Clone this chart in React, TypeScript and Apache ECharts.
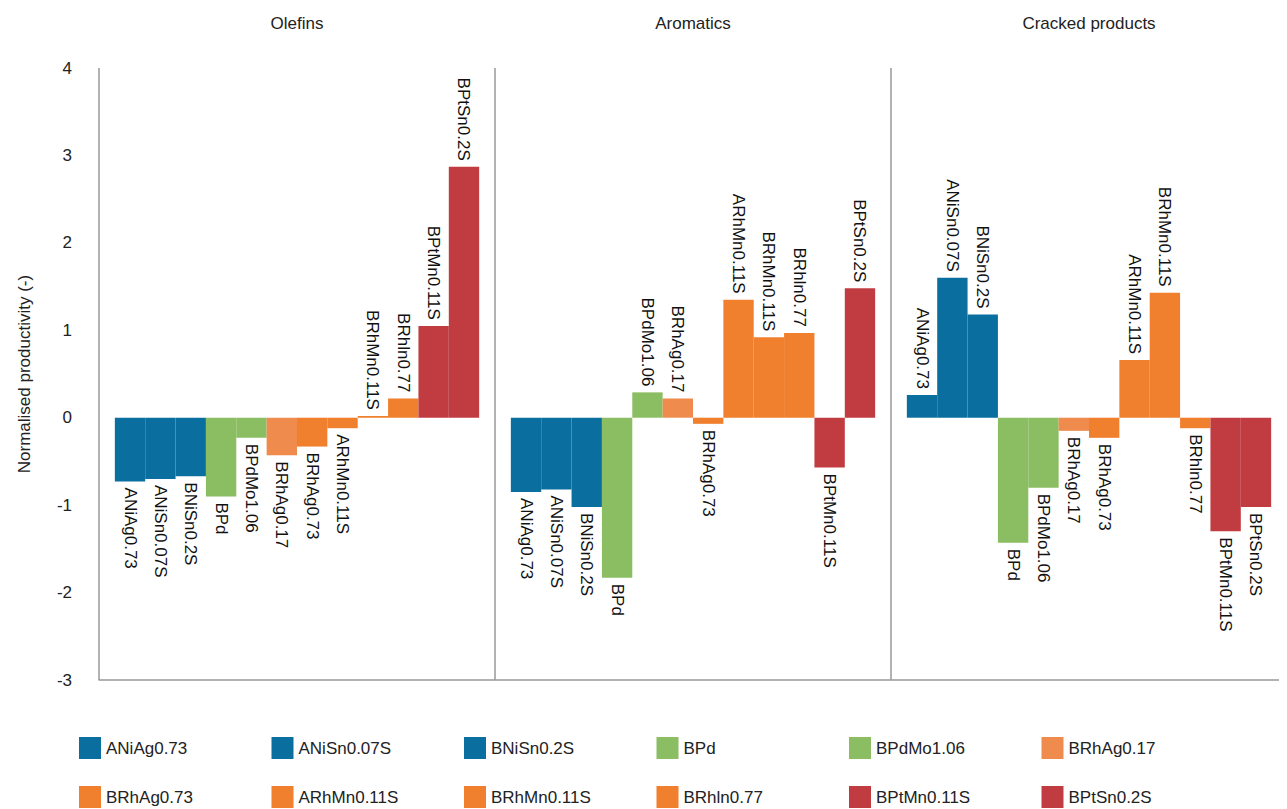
import React, { useEffect, useRef } from 'react';
import * as echarts from 'echarts';

const groups = ['Olefins', 'Aromatics', 'Cracked products'];
const catalysts = [
  'ANiAg0.73', 'ANiSn0.07S', 'BNiSn0.2S', 'BPd', 'BPdMo1.06', 'BRhAg0.17',
  'BRhAg0.73', 'ARhMn0.11S', 'BRhMn0.11S', 'BRhln0.77', 'BPtMn0.11S', 'BPtSn0.2S',
];
const colors = [
  '#0a6f9f', '#0a6f9f', '#0a6f9f', '#8bbd62', '#8bbd62', '#ef8b4c',
  '#f07f2e', '#f07f2e', '#f07f2e', '#f07f2e', '#c13c40', '#c13c40',
];
// values per catalyst: [Olefins, Aromatics, Cracked products]
const values: number[][] = [
  [-0.73, -0.85, 0.26],
  [-0.7, -0.82, 1.6],
  [-0.67, -1.02, 1.18],
  [-0.9, -1.83, -1.43],
  [-0.23, 0.29, -0.8],
  [-0.43, 0.22, -0.15],
  [-0.33, -0.07, -0.23],
  [-0.12, 1.35, 0.66],
  [0.02, 0.92, 1.43],
  [0.22, 0.97, -0.12],
  [1.05, -0.57, -1.3],
  [2.87, 1.48, -1.02],
];

const font = 'Liberation Sans, Arial, sans-serif';

export default function App() {
  const ref = useRef<HTMLDivElement>(null);
  useEffect(() => {
    if (!ref.current) return;
    const chart = echarts.init(ref.current, undefined, { renderer: 'svg' });
    // one legend per entry so the columns are evenly spaced
    const legends = catalysts.map((name, i) => ({
      top: i < 6 ? 724 : 773,
      left: 66 + (i % 6) * 192.5,
      itemWidth: 22,
      itemHeight: 22,
      itemGap: 6,
      icon: 'rect',
      data: [name],
      textStyle: { fontSize: 17, color: '#222', fontFamily: font },
    }));
    chart.setOption({
      animation: false,
      textStyle: { fontFamily: font },
      grid: { left: 78, right: 0, top: 60, bottom: 129 },
      legend: legends,
      xAxis: [
        {
          type: 'category',
          data: groups,
          position: 'top',
          offset: 28,
          axisLine: { show: false },
          axisTick: { show: false },
          axisLabel: { fontSize: 17, color: '#222' },
          splitLine: { show: true, lineStyle: { color: '#999', width: 1.5 } },
        },
        {
          type: 'category',
          data: groups,
          position: 'bottom',
          axisLine: { onZero: true, lineStyle: { color: '#999', width: 1.5 } },
          axisTick: { show: false },
          axisLabel: { show: false },
        },
      ],
      yAxis: {
        type: 'value',
        min: -3,
        max: 4,
        interval: 1,
        name: 'Normalised productivity (-)',
        nameLocation: 'middle',
        nameGap: 66,
        nameTextStyle: { fontSize: 17, color: '#222' },
        axisLine: { show: false },
        axisTick: { show: false },
        splitLine: { show: false },
        axisLabel: { fontSize: 17, color: '#222', margin: 27 },
      },
      series: catalysts.map((name, i) => ({
        name,
        type: 'bar',
        xAxisIndex: 0,
        barGap: '0%',
        barCategoryGap: '8%',
        itemStyle: { color: colors[i] },
        data: values[i].map((v) => ({
          value: v,
          label: {
            show: true,
            formatter: name,
            rotate: -90,
            position: v >= 0 ? 'top' : 'bottom',
            align: v >= 0 ? 'right' : 'left',
            verticalAlign: 'middle',
            distance: 6,
            fontSize: 17,
            color: '#111',
          },
        })),
      })),
    });
    return () => chart.dispose();
  }, []);
  return <div ref={ref} style={{ width: 1279, height: 801 }} />;
}
